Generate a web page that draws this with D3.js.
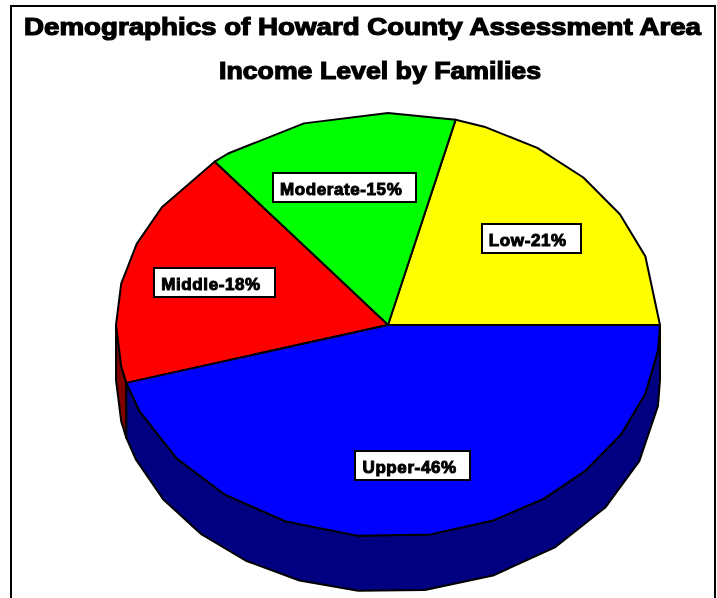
<!DOCTYPE html>
<html lang="en">
<head>
    <meta charset="UTF-8">
    <title>Demographics of Howard County Assessment Area</title>
    <script src="https://d3js.org/d3.v7.min.js"></script>
    <style>
        html, body { margin: 0; padding: 0; background: white; }
        svg { display: block; }
        text { font-family: "Liberation Sans", Arial, sans-serif; font-weight: bold; fill: black; stroke: black; filter: url(#soft); }
        .title { font-size: 24px; stroke-width: 1.2px; }
        .label { font-size: 17px; stroke-width: 1px; }
        .edge { stroke: black; stroke-width: 2px; stroke-linejoin: round; }
    </style>
</head>
<body>
    <svg width="717" height="598">
        <defs>
            <filter id="soft" x="-5%" y="-20%" width="110%" height="140%">
                <feGaussianBlur stdDeviation="0.4"></feGaussianBlur>
            </filter>
        </defs>
    </svg>
    <script>
        // data (labels show the rounded value)
        const categories = ["Low", "Moderate", "Middle", "Upper"];
        const percents = [21, 15, 18.4, 45.6];
        const colors = ["#ffff00", "#00ff00", "#ff0000", "#0000ff"];
        const wallColors = ["#808000", "#008000", "#800000", "#000080"];

        // the original outline is a coarse polygon, these are its corners in degrees
        const topCorners = [
            [18.9, 31.5, 44.1, 56.7, 69.3],
            [90, 108, 126],
            [146.25, 157.5, 168.75, 180, 191.25],
            [204, 219, 233, 248, 263.5, 279, 292.7, 305, 316.5, 329, 341, 353]
        ];
        const bottomCorners = [
            [],
            [],
            [180, 191.25],
            [202, 214.3, 226.5, 238.5, 251, 263.7, 277.8, 292.7, 308, 323, 337.5, 353]
        ];

        // the Moderate box sits a little left of its slice centre
        const labelNudge = [0, -4, 0, 0];

        const depth = 55;

        const svg = d3.select("svg");

        const xScale = d3.scaleLinear().domain([-1, 1]).range([116, 660]);
        const yScale = d3.scaleLinear().domain([-1, 1]).range([537, 113]);

        const rad = Math.PI / 180;
        const pointAt = (deg, drop = 0, r = 1) => [
            xScale(r * Math.cos(deg * rad)),
            yScale(r * Math.sin(deg * rad)) + drop
        ];

        // d3.pie angles are used as degrees counter clockwise from east
        const slices = d3.pie().sort(null).startAngle(0).endAngle(2 * Math.PI)(percents)
            .map((d, i) => ({
                i,
                start: d.startAngle / rad,
                end: d.endAngle / rad,
                mid: (d.startAngle + d.endAngle) / 2 / rad
            }));

        const line = d3.line();

        // frame, open at the bottom
        svg.append("path")
            .attr("d", "M11,598V6H715V598")
            .attr("fill", "none")
            .attr("stroke", "black")
            .attr("stroke-width", 2)
            .attr("shape-rendering", "crispEdges");

        // side walls, only the ones facing the viewer
        slices.filter(d => bottomCorners[d.i].length > 0).forEach(d => {
            const from = Math.max(d.start, 180);
            const topEdge = [from, ...topCorners[d.i].filter(a => a > from), d.end].map(a => pointAt(a));
            const bottomEdge = [from, ...bottomCorners[d.i].filter(a => a > from), d.end].map(a => pointAt(a, depth));
            svg.append("path")
                .attr("class", "edge")
                .attr("fill", wallColors[d.i])
                .attr("d", line([...topEdge, ...bottomEdge.reverse()]) + "Z");
        });

        // top of the pie
        svg.selectAll(".slice")
            .data(slices)
            .enter().append("path")
            .attr("class", "slice edge")
            .attr("fill", d => colors[d.i])
            .attr("d", d => line([
                pointAt(0, 0, 0),
                pointAt(d.start),
                ...topCorners[d.i].map(a => pointAt(a)),
                pointAt(d.end)
            ]) + "Z");

        // labels sit in white boxes, two thirds of the way out
        const labels = svg.selectAll(".label-group")
            .data(slices)
            .enter().append("g")
            .attr("class", "label-group")
            .attr("transform", d => {
                const p = pointAt(d.mid, 0, 0.667);
                return `translate(${p[0] + labelNudge[d.i]},${p[1]})`;
            });

        labels.append("rect")
            .attr("fill", "white")
            .attr("stroke", "black")
            .attr("stroke-width", 2)
            .attr("shape-rendering", "crispEdges");

        labels.append("text")
            .attr("class", "label")
            .attr("letter-spacing", "0.6px")
            .text(d => `${categories[d.i]}-${Math.round(percents[d.i])}%`)
            .each(function() {
                const w = this.getComputedTextLength();
                const boxW = Math.round(w + 21);
                d3.select(this).attr("x", -boxW / 2 + 7).attr("y", 7.5);
                d3.select(this.parentNode).select("rect")
                    .attr("x", -boxW / 2)
                    .attr("y", -14.5)
                    .attr("width", boxW)
                    .attr("height", 29);
            });

        // titles
        svg.append("text")
            .attr("class", "title")
            .attr("x", 24)
            .attr("y", 35)
            .attr("textLength", 677)
            .attr("lengthAdjust", "spacingAndGlyphs")
            .text("Demographics of Howard County Assessment Area");

        svg.append("text")
            .attr("class", "title")
            .attr("x", 219)
            .attr("y", 79)
            .attr("textLength", 322)
            .attr("lengthAdjust", "spacingAndGlyphs")
            .text("Income Level by Families");
    </script>
</body>
</html>
